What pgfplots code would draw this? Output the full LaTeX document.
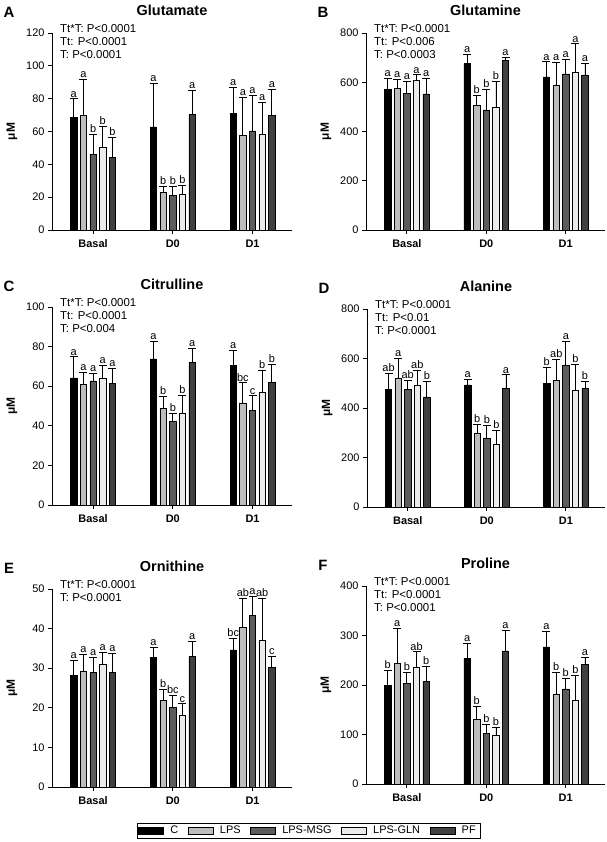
\documentclass[border=0pt]{standalone}
\usepackage{fontspec}
\setmainfont{Liberation Sans}
\usepackage{pgfplots}
\usepackage{pgfplotstable}
\pgfplotsset{compat=1.18}
\definecolor{cC}{HTML}{000000}
\definecolor{cL}{HTML}{BDBDBD}
\definecolor{cM}{HTML}{5C5C5C}
\definecolor{cG}{HTML}{EBEBEB}
\definecolor{cP}{HTML}{404040}

% columns: g = group (0 Basal, 1 D0, 2 D1); c = C, s = LPS, m = LPS-MSG, n = LPS-GLN, p = PF
% x = mean, xt = mean + SD (top of error bar), xl = letter
\pgfplotstableread{
g c ct cl s st sl m mt ml n nt nl p pt pl
0 68.7 79.9 a 69.8 91.5 a 46.2 58.0 b 50.2 63.3 b 44.1 56.3 b
1 62.8 89.5 a 23.0 26.8 b 20.9 26.4 b 22.0 27.0 b 70.2 84.8 a
2 71.2 86.8 a 57.4 80.7 a 60.4 81.8 a 58.4 77.9 a 69.6 85.4 a
}\tA
\pgfplotstableread{
g c ct cl s st sl m mt ml n nt nl p pt pl
0 570 616 a 574 610 a 555 603 a 608 630 a 553 616 a
1 676 714 a 505 545 b 488 572 b 499 603 b 689 701 a
2 622 683 a 589 680 a 634 694 a 639 756 a 630 677 a
}\tB
\pgfplotstableread{
g c ct cl s st sl m mt ml n nt nl p pt pl
0 64.2 74.8 a 60.8 67.2 a 62.7 66.7 a 63.9 70.4 a 61.3 69.2 a
1 73.8 82.7 a 48.7 54.8 b 42.4 46.1 b 46.2 55.6 b 72.1 79.3 a
2 70.4 78.2 a 51.6 61.7 bc 47.6 55.1 c 57.1 68.2 b 61.8 70.9 b
}\tC
\pgfplotstableread{
g c ct cl s st sl m mt ml n nt nl p pt pl
0 474 541 ab 519 602 a 475 513 ab 490 551 ab 445 507 b
1 493 514 a 298 335 b 279 331 b 254 310 b 479 534 a
2 499 563 b 510 598 ab 571 668 a 470 576 b 479 506 b
}\tD
\pgfplotstableread{
g c ct cl s st sl m mt ml n nt nl p pt pl
0 28.1 32.0 a 29.3 33.5 a 28.9 32.8 a 31.0 34.1 a 28.9 33.75 a
1 32.75 35.3 a 21.8 24.7 b 20.1 23.1 bc 18.1 21.0 c 33.0 36.8 a
2 34.6 37.6 bc 40.3 47.6 ab 43.3 48.25 a 37.0 47.6 ab 30.2 33.0 c
}\tE
\pgfplotstableread{
g c ct cl s st sl m mt ml n nt nl p pt pl
0 200 229 b 244 314 a 204 226 b 235 267 ab 207 237 b
1 254 285 a 131 157 b 102 120 b 99 115 b 269 311 a
2 277 309 a 182 225 b 192 214 b 169 219 b 241 255 a
}\tF

\newcommand{\ser}[4]{%
  \addplot[ybar, bar width=0.08, bar shift=0pt, fill=#4, draw=black, line width=0.6bp,
    error bars/.cd, y dir=plus, y explicit,
    error bar style={line width=0.8bp, black},
    error mark=-,
    error mark options={rotate=90, black, mark size=4bp, line width=0.8bp}]
    table[x expr=\thisrow{g}+(#2), y=#3, y error expr=\thisrow{#3t}-\thisrow{#3}] {#1};
  \addplot[draw=none, nodes near coords, point meta=explicit symbolic,
    every node near coord/.append style={anchor=south, inner sep=1.5bp, font=\fontsize{11}{12}\selectfont, text=black}]
    table[x expr=\thisrow{g}+(#2), y=#3t, meta=#3l] {#1};
}
\newcommand{\bars}[1]{%
  \ser{#1}{-0.242}{c}{cC}%
  \ser{#1}{-0.121}{s}{cL}%
  \ser{#1}{0}{m}{cM}%
  \ser{#1}{0.121}{n}{cG}%
  \ser{#1}{0.242}{p}{cP}%
}

\pgfplotsset{
  panel/.style={
    scale only axis, anchor=south west,
    xmin=-0.515, xmax=2.495, ymin=0,
    axis x line*=bottom, axis y line*=left,
    axis line style={-, line width=0.8bp, black},
    tick align=outside, major tick length=4bp,
    tick style={line width=0.8bp, black},
    xtick={0,1,2}, xticklabels={Basal,D0,D1},
    xticklabel style={font=\fontsize{11}{13}\selectfont\bfseries, yshift=-2bp},
    yticklabel style={font=\fontsize{11}{13}\selectfont},
    /pgf/number format/assume math mode=true,
    scaled y ticks=false,
    ylabel={μM},
    ylabel style={font=\fontsize{12}{14}\selectfont\bfseries, at={(axis description cs:-0.167,0.5)}, anchor=center},
    title style={font=\fontsize{14.5}{16}\selectfont\bfseries, at={(axis description cs:0.5,1)}, anchor=base, yshift=11.5bp},
    clip=false,
  },
}
\tikzset{
  stat/.style={anchor=north west, align=left, inner sep=0pt, xshift=8bp, yshift=9bp, font=\fontsize{11.5}{13.4}\selectfont},
  plabel/.style={anchor=base, xshift=-43bp, yshift=15.8bp, font=\fontsize{15}{17}\selectfont\bfseries},
}

\begin{document}
\begin{tikzpicture}
\path[use as bounding box] (0,0) rectangle (607bp,842bp);

% A
\begin{axis}[panel, at={(52bp,612bp)}, width=240bp, height=197bp,
  ymax=120, ytick={0,20,...,120}, title={Glutamate}]
\bars{\tA}
\node[stat] at (axis description cs:0,1) {Tt*T: P<0.0001\\Tt: P<0.0001\\T: P<0.0001};
\node[plabel] at (axis description cs:0,1) {A};
\end{axis}

% B
\begin{axis}[panel, at={(366bp,612bp)}, width=239bp, height=197bp,
  ymax=800, ytick={0,200,...,800}, title={Glutamine}]
\bars{\tB}
\node[stat] at (axis description cs:0,1) {Tt*T: P<0.0001\\Tt: P<0.006\\T: P<0.0003};
\node[plabel] at (axis description cs:0,1) {B};
\end{axis}

% C
\begin{axis}[panel, at={(52bp,337bp)}, width=240bp, height=198bp,
  ymax=100, ytick={0,20,...,100}, title={Citrulline}]
\bars{\tC}
\node[stat] at (axis description cs:0,1) {Tt*T: P<0.0001\\Tt: P<0.0001\\T: P<0.004};
\node[plabel] at (axis description cs:0,1) {C};
\end{axis}

% D
\begin{axis}[panel, at={(367bp,335bp)}, width=238bp, height=198bp,
  ymax=800, ytick={0,200,...,800}, title={Alanine}]
\bars{\tD}
\node[stat] at (axis description cs:0,1) {Tt*T: P<0.0001\\Tt: P<0.01\\T: P<0.0001};
\node[plabel] at (axis description cs:0,1) {D};
\end{axis}

% E
\begin{axis}[panel, at={(52bp,55bp)}, width=240bp, height=198bp,
  ymax=50, ytick={0,10,...,50}, title={Ornithine},
  legend columns=5,
  legend image code/.code={\draw[#1] (0bp,-3.5bp) rectangle (25bp,3.5bp);},
  legend style={at={(axis description cs:0.354,-0.180)}, anchor=north west,
    draw=black, line width=0.8bp, inner sep=1bp,
    font=\fontsize{11}{13}\selectfont,
    nodes={inner xsep=3.5bp, inner ysep=2bp},
    /tikz/every odd column/.append style={column sep=3bp},
    /tikz/every even column/.append style={column sep=6bp}},
  legend entries={C,LPS,LPS-MSG,LPS-GLN,PF}]
\addlegendimage{fill=cC, draw=black, line width=0.6bp}
\addlegendimage{fill=cL, draw=black, line width=0.6bp}
\addlegendimage{fill=cM, draw=black, line width=0.6bp}
\addlegendimage{fill=cG, draw=black, line width=0.6bp}
\addlegendimage{fill=cP, draw=black, line width=0.6bp}
\bars{\tE}
\node[stat] at (axis description cs:0,1) {Tt*T: P<0.0001\\T: P<0.0001};
\node[plabel] at (axis description cs:0,1) {E};
\end{axis}

% F
\begin{axis}[panel, at={(366bp,58bp)}, width=239bp, height=198bp,
  ymax=400, ytick={0,100,...,400}, title={Proline}]
\bars{\tF}
\node[stat] at (axis description cs:0,1) {Tt*T: P<0.0001\\Tt: P<0.0001\\T: P<0.0001};
\node[plabel] at (axis description cs:0,1) {F};
\end{axis}
\end{tikzpicture}
\end{document}
